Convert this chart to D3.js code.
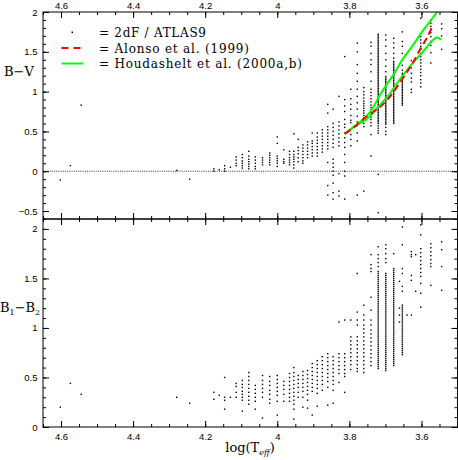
<!DOCTYPE html>
<html>
<head>
<meta charset="utf-8">
<script src="https://cdn.jsdelivr.net/npm/d3@7"></script>
<style>
  body { margin: 0; background: #fff; }
  .tick text { font-family: "Liberation Sans", sans-serif; font-size: 9.5px; fill: #000; }
  .tick line { stroke: #000; stroke-width: 1; }
</style>
</head>
<body>
<div id="chart"></div>
<script>
// tick values
const xMajor = [4.6, 4.4, 4.2, 4.0, 3.8, 3.6];
const yTopMajor = [-0.5, 0, 0.5, 1, 1.5, 2];
const yBotMajor = [0, 0.5, 1, 1.5, 2];

// 2dF / ATLAS9 stars: [log Teff, B-V values]
const bvColumns = [
  [3.544, [1.85, 1.79, 1.70, 1.53]],
  [3.574, [1.90, 1.86, 1.82, 1.78, 1.74, 1.69, 1.63, 1.58, 1.49, 1.36]],
  [3.602, [1.92, 1.69, 1.65, 1.61, 1.57, 1.53, 1.48, 1.44, 1.40, 1.36, 1.32, 1.28, 1.24, 1.20, 1.15, 1.11, 1.06]],
  [3.628, [1.39, 1.30, 1.23, 1.17, 1.12, 1.03, 0.99]],
  [3.653, [1.75, 1.63, 1.57, 1.48, 1.40, 1.33, 1.27, 1.23, 1.21, 1.19, 1.17, 1.15, 1.13, 1.11, 1.09, 1.07, 1.05, 1.03, 1.01, 0.99, 0.97, 0.95, 0.93, 0.91, 0.89, 0.87, 0.85, 0.83]],
  [3.677, [1.67, 1.61, 1.55, 1.48, 1.42, 1.38, 1.36, 1.34, 1.32, 1.30, 1.28, 1.26, 1.24, 1.22, 1.20, 1.18, 1.16, 1.14, 1.12, 1.10, 1.08, 1.06, 1.04, 1.02, 1.00, 0.98, 0.96, 0.94, 0.92, 0.90, 0.88, 0.86, 0.84, 0.82, 0.80, 0.78, 0.76, 0.74, 0.72, 0.70, 0.68, 0.66, 0.64, 0.62, 0.60]],
  [3.699, [1.71, 1.65, 1.57, 1.48, 1.40, 1.32, 1.25, 1.19, 1.17, 1.15, 1.13, 1.11, 1.09, 1.07, 1.05, 1.03, 1.01, 0.99, 0.97, 0.95, 0.93, 0.91, 0.89, 0.87, 0.85, 0.83, 0.81, 0.79, 0.77, 0.75, 0.73, 0.71, 0.69, 0.67, 0.65, 0.63, 0.61, 0.59, 0.55, 0.50, 0.46]],
  [3.720, [1.72, 1.70, 1.68, 1.66, 1.64, 1.62, 1.60, 1.58, 1.56, 1.54, 1.52, 1.50, 1.48, 1.46, 1.44, 1.42, 1.40, 1.38, 1.36, 1.34, 1.32, 1.30, 1.28, 1.26, 1.24, 1.22, 1.20, 1.18, 1.16, 1.14, 1.12, 1.10, 1.08, 1.06, 1.04, 1.02, 1.00, 0.98, 0.96, 0.94, 0.92, 0.90, 0.88, 0.86, 0.84, 0.82, 0.80, 0.78, 0.76, 0.74, 0.72, 0.70, 0.68, 0.66, 0.64, 0.62, 0.60, 0.57, 0.54, 0.51, 0.48, -0.04, -0.52]],
  [3.740, [1.62, 1.57, 1.48, 1.40, 1.34, 1.25, 1.13, 1.03, 0.99, 0.95, 0.91, 0.87, 0.83, 0.80, 0.77, 0.74, 0.71, 0.68, 0.65, 0.61, 0.57, 0.46, 0.19]],
  [3.760, [1.05, 1.00, 0.96, 0.92, 0.88, 0.85, 0.82, 0.79, 0.76, 0.73, 0.70, 0.67, 0.64, 0.60, 0.56, -0.25]],
  [3.778, [1.61, 1.50, 1.34, 1.23, 1.13, 1.03, 0.94, 0.86, 0.78, 0.69, 0.62, 0.57, 0.48, 0.38, -0.30]],
  [3.796, [1.03, 0.91, 0.84, 0.78, 0.70, 0.64, 0.61, 0.53, 0.46, 0.40, 0.32]],
  [3.813, [1.44, 0.90, 0.82, 0.75, 0.65, 0.59, 0.55, 0.48, 0.42, 0.36, 0.30, 0.21, 0.11, 0.00, -0.06, -0.35]],
  [3.829, [0.94, 0.62, 0.57, 0.52, 0.47, 0.42, 0.37, 0.32, -0.03, -0.25, -0.31]],
  [3.845, [0.78, 0.60, 0.55, 0.50, 0.45, 0.40, 0.35, 0.30, 0.15, 0.10, 0.05, 0.00, -0.05, -0.15, -0.27, -0.35]],
  [3.860, [0.84, 0.73, 0.56, 0.52, 0.48, 0.44, 0.40, 0.36, 0.32, 0.28, 0.11, -0.18, -0.30]],
  [3.875, [0.52, 0.48, 0.44, 0.40, 0.36, 0.32, 0.28, 0.24]],
  [3.889, [0.48, 0.43, 0.39, 0.35, 0.31, 0.27, 0.23, 0.19]],
  [3.903, [0.48, 0.38, 0.35, 0.31, 0.27, 0.23, 0.19]],
  [3.916, [0.37, 0.33, 0.29, 0.25, 0.21, 0.17]],
  [3.929, [0.33, 0.29, 0.25, 0.21, 0.17, 0.13, 0.10]],
  [3.942, [0.40, 0.30, 0.26, 0.22, 0.17, 0.12]],
  [3.954, [0.47, 0.25, 0.21, 0.18, 0.15, 0.12, 0.08, 0.04]],
  [3.966, [0.25, 0.21, 0.17, 0.14, 0.11, 0.08]],
  [3.982, [0.27, 0.15, 0.12, 0.10]],
  [4.000, [0.43, 0.35, 0.19, 0.16, 0.13, 0.10, 0.06]],
  [4.021, [0.23, 0.20, 0.17, 0.14, 0.11, 0.08]],
  [4.041, [0.17, 0.14, 0.11, 0.08]],
  [4.061, [0.18, 0.14, 0.10, 0.06, 0.03]],
  [4.079, [0.25, 0.19, 0.15, 0.12, 0.09, 0.06, 0.03]],
  [4.097, [0.21, 0.17, 0.13, 0.10, 0.07, 0.04]],
  [4.114, [0.18, 0.14, 0.10, 0.07]],
  [4.130, [0.05]],
  [4.146, [0.07, 0.03, 0.00]],
  [4.161, [0.02]],
  [4.176, [0.03, 0.00]],
  [4.243, [-0.10]],
  [4.279, [0.01]],
  [4.544, [0.83]],
  [4.574, [0.07]],
  [4.602, [-0.11]]
];

// same stars: [log Teff, B1-B2 values]
const b12Columns = [
  [3.544, [1.87, 1.79, 1.62, 1.38]],
  [3.574, [1.85, 1.81, 1.77, 1.73, 1.69, 1.65, 1.62, 1.43]],
  [3.602, [2.04, 1.94, 1.80, 1.76, 1.72, 1.68, 1.64, 1.60, 1.56, 1.52, 1.45, 1.35, 1.21]],
  [3.616, [1.74, 1.37]],
  [3.628, [1.77, 1.74, 1.72, 1.53, 1.48, 1.13]],
  [3.640, [1.13]],
  [3.653, [2.02, 1.84, 1.60, 1.55, 1.42, 1.37, 1.23, 1.21, 1.19, 1.17, 1.15, 1.13, 1.11, 1.09, 1.07, 1.05, 1.03, 1.01, 0.99, 0.97, 0.95, 0.93, 0.91, 0.89, 0.87, 0.85, 0.83, 0.81, 0.79, 0.77, 0.75, 0.73]],
  [3.661, [1.47, 1.20, 1.13, 1.06]],
  [3.677, [1.75, 1.60, 1.58, 1.56, 1.54, 1.52, 1.50, 1.48, 1.46, 1.44, 1.42, 1.40, 1.38, 1.36, 1.34, 1.32, 1.30, 1.28, 1.26, 1.24, 1.22, 1.20, 1.18, 1.16, 1.14, 1.12, 1.10, 1.08, 1.06, 1.04, 1.02, 1.00, 0.98, 0.96, 0.94, 0.92, 0.90, 0.88, 0.86, 0.84, 0.82, 0.80, 0.78, 0.76, 0.74, 0.72, 0.70, 0.68, 0.66, 0.64, 0.62]],
  [3.699, [1.84, 1.80, 1.75, 1.70, 1.66, 1.55, 1.53, 1.51, 1.49, 1.47, 1.45, 1.43, 1.41, 1.39, 1.37, 1.35, 1.33, 1.31, 1.29, 1.27, 1.25, 1.23, 1.21, 1.19, 1.17, 1.15, 1.13, 1.11, 1.09, 1.07, 1.05, 1.03, 1.01, 0.99, 0.97, 0.95, 0.93, 0.91, 0.89, 0.87, 0.85, 0.83, 0.81, 0.79, 0.77, 0.75, 0.73, 0.71, 0.69, 0.67, 0.65, 0.63, 0.61, 0.59, 0.57]],
  [3.720, [1.82, 1.74, 1.70, 1.66, 1.62, 1.57, 1.55, 1.53, 1.51, 1.49, 1.47, 1.45, 1.43, 1.41, 1.39, 1.37, 1.35, 1.33, 1.31, 1.29, 1.27, 1.25, 1.23, 1.21, 1.19, 1.17, 1.15, 1.13, 1.11, 1.09, 1.07, 1.05, 1.03, 1.01, 0.99, 0.97, 0.95, 0.93, 0.91, 0.89, 0.87, 0.85, 0.83, 0.81, 0.79, 0.77, 0.75, 0.73, 0.71, 0.69, 0.67, 0.65, 0.63, 0.61, 0.59]],
  [3.740, [1.74, 1.64, 1.60, 1.57, 1.31, 1.18, 1.08, 1.03, 0.98, 0.94, 0.90, 0.86, 0.82, 0.78, 0.74, 0.70, 0.66, 0.62]],
  [3.760, [1.23, 1.13, 1.08, 1.03, 0.99, 0.95, 0.91, 0.87, 0.83, 0.79, 0.75, 0.71, 0.67, 0.63, 0.59, 0.55]],
  [3.778, [1.55, 1.16, 1.08, 1.03, 0.91, 0.87, 0.83, 0.79, 0.75, 0.71, 0.67, 0.63, 0.59, 0.56]],
  [3.796, [1.08, 0.91, 0.87, 0.83, 0.79, 0.75, 0.71, 0.67, 0.63, 0.58]],
  [3.813, [1.08, 0.74, 0.70, 0.66, 0.62, 0.58, 0.54, 0.51, 0.35]],
  [3.829, [1.06, 0.74, 0.70, 0.66, 0.62, 0.58, 0.54, 0.45]],
  [3.845, [0.71, 0.67, 0.63, 0.59, 0.55, 0.51, 0.47, 0.43, 0.37, 0.24]],
  [3.860, [0.74, 0.70, 0.66, 0.62, 0.58, 0.54, 0.50, 0.46, 0.40, 0.22]],
  [3.875, [0.71, 0.67, 0.63, 0.59, 0.55, 0.51, 0.47, 0.43, 0.37]],
  [3.889, [0.67, 0.63, 0.59, 0.55, 0.51, 0.47, 0.43, 0.39, 0.34, 0.21]],
  [3.903, [0.64, 0.60, 0.56, 0.52, 0.48, 0.44, 0.40, 0.36, 0.12]],
  [3.916, [0.57, 0.53, 0.49, 0.45, 0.41, 0.37, 0.33, 0.27, 0.19]],
  [3.929, [0.56, 0.52, 0.48, 0.44, 0.40, 0.36, 0.30, 0.20]],
  [3.942, [0.52, 0.48, 0.44, 0.40, 0.35, 0.30]],
  [3.954, [0.60, 0.55, 0.51, 0.47, 0.43, 0.39, 0.35, 0.31, 0.27, 0.23, 0.18, 0.08]],
  [3.966, [0.54, 0.50, 0.46, 0.42, 0.38, 0.34, 0.30, 0.26]],
  [3.982, [0.46, 0.42, 0.38, 0.33, 0.26]],
  [4.000, [0.52, 0.48, 0.44, 0.40, 0.36, 0.32, 0.26, 0.12]],
  [4.021, [0.51, 0.46, 0.42, 0.37, 0.33, 0.28, 0.24]],
  [4.041, [0.52, 0.47, 0.43, 0.39, 0.35, 0.30, 0.09]],
  [4.061, [0.42, 0.38, 0.34, 0.30, 0.26, 0.18]],
  [4.079, [0.55, 0.51, 0.47, 0.43, 0.39, 0.35, 0.31, 0.27, 0.23]],
  [4.097, [0.47, 0.43, 0.40, 0.36, 0.33, 0.30, 0.27, 0.16]],
  [4.114, [0.44, 0.41, 0.35, 0.30]],
  [4.130, [0.30]],
  [4.146, [0.50, 0.30, 0.27, 0.18]],
  [4.161, [0.32]],
  [4.176, [0.35, 0.28]],
  [4.243, [0.24]],
  [4.279, [0.30]],
  [4.544, [0.33]],
  [4.574, [0.44]],
  [4.602, [0.20]]
];

// Alonso et al. (1999) relation
const alonsoT  = [3.813, 3.790, 3.760, 3.735, 3.707, 3.680, 3.656, 3.628, 3.605, 3.582, 3.567];
const alonsoBV = [0.47, 0.54, 0.66, 0.74, 0.84, 0.98, 1.14, 1.33, 1.52, 1.70, 1.85];

// Houdashelt et al. (2000a,b), two sequences
const houdAT  = [3.813, 3.790, 3.762, 3.740, 3.716, 3.695, 3.677, 3.653, 3.624, 3.600, 3.578, 3.552];
const houdABV = [0.47, 0.55, 0.65, 0.76, 0.95, 1.10, 1.22, 1.40, 1.58, 1.74, 1.87, 2.03];
const houdBT  = [3.813, 3.790, 3.753, 3.735, 3.716, 3.690, 3.670, 3.647, 3.624, 3.600, 3.578, 3.565, 3.558, 3.551, 3.545];
const houdBBV = [0.47, 0.55, 0.65, 0.73, 0.83, 0.96, 1.09, 1.23, 1.36, 1.48, 1.60, 1.66, 1.68, 1.67, 1.65];

const width = 458, height = 460;
const plotLeft = 43, plotRight = 457.5, plotTop = 12, plotMid = 219, plotBottom = 427;

const svg = d3.select("#chart").append("svg")
    .attr("width", width)
    .attr("height", height)
    .style("display", "block");

const x = d3.scaleLinear().domain([4.65, 3.5]).range([plotLeft, plotRight]);
const yTop = d3.scaleLinear().domain([-0.6, 2]).range([plotMid, plotTop]);
const yBot = d3.scaleLinear().domain([0, 2.1]).range([plotBottom, plotMid]);

const fmt = d3.format("~g");
const xMinor = d3.range(3.5, 4.66, 0.05);

// clip for the top panel curves
svg.append("clipPath").attr("id", "clipTop")
  .append("rect").attr("x", plotLeft).attr("y", plotTop)
  .attr("width", plotRight - plotLeft).attr("height", plotMid - plotTop);

// zero line
svg.append("line")
    .attr("x1", plotLeft).attr("x2", plotRight)
    .attr("y1", yTop(0)).attr("y2", yTop(0))
    .attr("stroke", "#333").attr("stroke-width", 1)
    .attr("stroke-dasharray", "1,1.2");

// points
const flat = cols => cols.flatMap(c => c[1].map(v => ({t: c[0], v: v})));
const dot = 1.4;

svg.append("g").selectAll("rect")
    .data(flat(bvColumns))
    .join("rect")
    .attr("x", d => x(d.t) - dot / 2)
    .attr("y", d => yTop(d.v) - dot / 2)
    .attr("width", dot).attr("height", dot)
    .attr("fill", "#000");

svg.append("g").selectAll("rect")
    .data(flat(b12Columns))
    .join("rect")
    .attr("x", d => x(d.t) - dot / 2)
    .attr("y", d => yBot(d.v) - dot / 2)
    .attr("width", dot).attr("height", dot)
    .attr("fill", "#000");

// curves
const line = d3.line()
    .x(d => x(d[0]))
    .y(d => yTop(d[1]))
    .curve(d3.curveCatmullRom);

const curves = svg.append("g").attr("clip-path", "url(#clipTop)");
curves.append("path")
    .attr("d", line(d3.zip(houdAT, houdABV)))
    .attr("fill", "none").attr("stroke", "#00ff00").attr("stroke-width", 2);
curves.append("path")
    .attr("d", line(d3.zip(houdBT, houdBBV)))
    .attr("fill", "none").attr("stroke", "#00ff00").attr("stroke-width", 2);
curves.append("path")
    .attr("d", line(d3.zip(alonsoT, alonsoBV)))
    .attr("fill", "none").attr("stroke", "#ff0000").attr("stroke-width", 2)
    .attr("stroke-dasharray", "7,4");

// axes: ticks point inward on every side
function ticks(axis, g, values, size, labels, pad) {
    g.call(axis.tickValues(values).tickSizeInner(-size).tickSizeOuter(0)
        .tickPadding(pad || 3)
        .tickFormat(labels ? fmt : ""));
    g.select(".domain").remove();
}

function panelAxes(yScale, yMajor, yY0, yY1, topLabels, bottomLabels) {
    const yMinor = d3.range(yScale.domain()[0], yScale.domain()[1] + 0.001, 0.1);
    // top edge
    let g = svg.append("g").attr("transform", `translate(0,${yY1})`);
    ticks(d3.axisTop(x), g, xMajor, 6, topLabels, 3);
    g = svg.append("g").attr("transform", `translate(0,${yY1})`);
    ticks(d3.axisTop(x), g, xMinor, 3, false);
    // bottom edge
    g = svg.append("g").attr("transform", `translate(0,${yY0})`);
    ticks(d3.axisBottom(x), g, xMajor, 6, bottomLabels, 6);
    g = svg.append("g").attr("transform", `translate(0,${yY0})`);
    ticks(d3.axisBottom(x), g, xMinor, 3, false);
    // left edge
    g = svg.append("g").attr("transform", `translate(${plotLeft},0)`);
    ticks(d3.axisLeft(yScale), g, yMajor, 6, true, 5.5);
    g = svg.append("g").attr("transform", `translate(${plotLeft},0)`);
    ticks(d3.axisLeft(yScale), g, yMinor, 3, false);
    // right edge
    g = svg.append("g").attr("transform", `translate(${plotRight},0)`);
    ticks(d3.axisRight(yScale), g, yMajor, 6, false);
    g = svg.append("g").attr("transform", `translate(${plotRight},0)`);
    ticks(d3.axisRight(yScale), g, yMinor, 3, false);
    // frame
    svg.append("rect")
        .attr("x", plotLeft).attr("y", yY1)
        .attr("width", plotRight - plotLeft).attr("height", yY0 - yY1)
        .attr("fill", "none").attr("stroke", "#000").attr("stroke-width", 1);
}

panelAxes(yTop, yTopMajor, plotMid, plotTop, true, false);
panelAxes(yBot, yBotMajor, plotBottom, plotMid, false, true);

// axis titles
const serif = "'DejaVu Serif', serif";
svg.append("text")
    .attr("x", 4).attr("y", 76)
    .style("font-family", serif).style("font-size", "13px")
    .text("B\u2212V");

const b12 = svg.append("text")
    .attr("x", 0).attr("y", 312)
    .style("font-family", serif).style("font-size", "13px");
b12.append("tspan").text("B");
b12.append("tspan").attr("dy", 3).style("font-size", "8px").text("1");
b12.append("tspan").attr("dy", -3).text("\u2212B");
b12.append("tspan").attr("dy", 3).style("font-size", "8px").text("2");

const xl = svg.append("text")
    .attr("x", 250).attr("y", 452)
    .attr("text-anchor", "middle")
    .style("font-family", serif).style("font-size", "13px");
xl.append("tspan").text("log(T");
xl.append("tspan").attr("dy", 3).style("font-size", "8px").style("font-style", "italic").text("eff");
xl.append("tspan").attr("dy", -3).text(")");

// legend
const legend = svg.append("g").style("font-family", serif).style("font-size", "12px");
legend.append("rect").attr("x", 71.5).attr("y", 31.5).attr("width", 1.5).attr("height", 1.5).attr("fill", "#000");
legend.append("line").attr("x1", 61.5).attr("x2", 81).attr("y1", 48).attr("y2", 48)
    .attr("stroke", "#ff0000").attr("stroke-width", 2).attr("stroke-dasharray", "7,5");
legend.append("line").attr("x1", 61.5).attr("x2", 83).attr("y1", 63.5).attr("y2", 63.5)
    .attr("stroke", "#00ff00").attr("stroke-width", 2);
legend.append("text").attr("x", 99).attr("y", 36.5).attr("textLength", 107).text("= 2dF / ATLAS9");
legend.append("text").attr("x", 99).attr("y", 52.5).attr("textLength", 150).text("= Alonso et al. (1999)");
legend.append("text").attr("x", 99).attr("y", 67.5).attr("textLength", 203).text("= Houdashelt et al. (2000a,b)");
</script>
</body>
</html>
